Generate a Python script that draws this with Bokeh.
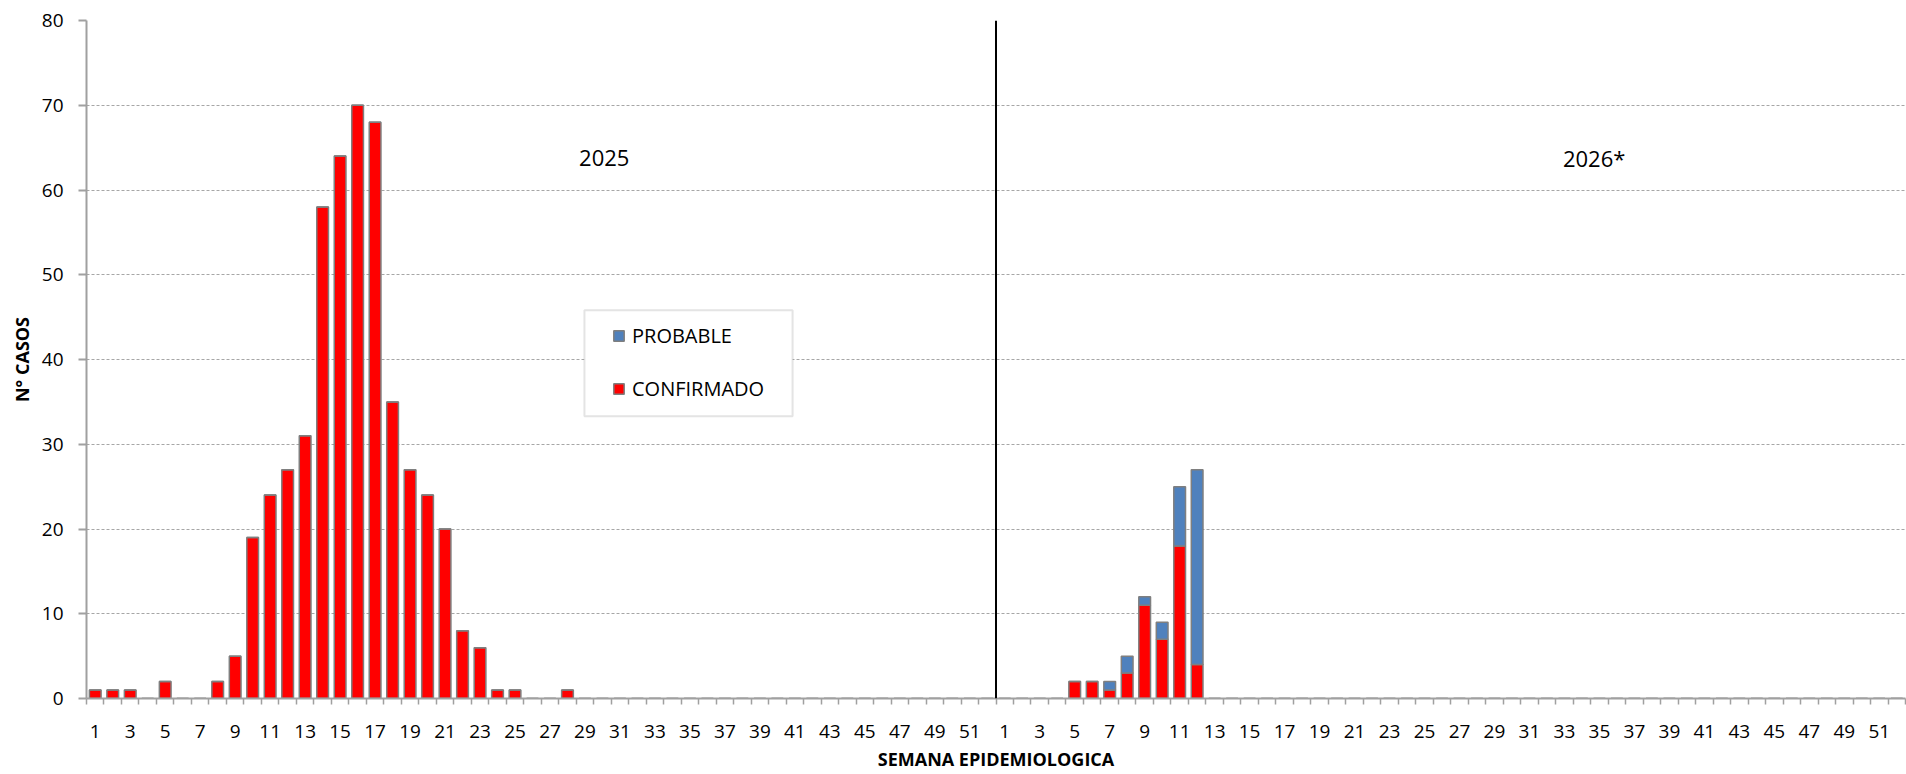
from bokeh.plotting import figure
from bokeh.models import (Range1d, FixedTicker, Legend, LegendItem, Label,
                          Span, ColumnDataSource, BoxAnnotation)
from bokeh.embed import file_html
from bokeh.resources import INLINE

# ---------------- data ----------------
weeks_2025 = [1, 2, 3, 4, 5, 6, 7, 8, 9, 10, 11, 12, 13, 14, 15, 16, 17, 18, 19, 20,
              21, 22, 23, 24, 25, 26, 27, 28, 29, 30, 31, 32, 33, 34, 35, 36, 37, 38, 39, 40,
              41, 42, 43, 44, 45, 46, 47, 48, 49, 50, 51, 52]
weeks_2026 = [1, 2, 3, 4, 5, 6, 7, 8, 9, 10, 11, 12, 13, 14, 15, 16, 17, 18, 19, 20,
              21, 22, 23, 24, 25, 26, 27, 28, 29, 30, 31, 32, 33, 34, 35, 36, 37, 38, 39, 40,
              41, 42, 43, 44, 45, 46, 47, 48, 49, 50, 51, 52]

confirmado_2025 = [1, 1, 1, 0, 2, 0, 0, 2, 5, 19, 24, 27, 31, 58, 64, 70, 68, 35, 27, 24,
                   20, 8, 6, 1, 1, 0, 0, 1, 0, 0, 0, 0, 0, 0, 0, 0, 0, 0, 0, 0,
                   0, 0, 0, 0, 0, 0, 0, 0, 0, 0, 0, 0]
probable_2025 = [0, 0, 0, 0, 0, 0, 0, 0, 0, 0, 0, 0, 0, 0, 0, 0, 0, 0, 0, 0,
                 0, 0, 0, 0, 0, 0, 0, 0, 0, 0, 0, 0, 0, 0, 0, 0, 0, 0, 0, 0,
                 0, 0, 0, 0, 0, 0, 0, 0, 0, 0, 0, 0]
confirmado_2026 = [0, 0, 0, 0, 2, 2, 1, 3, 11, 7, 18, 4, 0, 0, 0, 0, 0, 0, 0, 0,
                   0, 0, 0, 0, 0, 0, 0, 0, 0, 0, 0, 0, 0, 0, 0, 0, 0, 0, 0, 0,
                   0, 0, 0, 0, 0, 0, 0, 0, 0, 0, 0, 0]
probable_2026 = [0, 0, 0, 0, 0, 0, 1, 2, 1, 2, 7, 23, 0, 0, 0, 0, 0, 0, 0, 0,
                 0, 0, 0, 0, 0, 0, 0, 0, 0, 0, 0, 0, 0, 0, 0, 0, 0, 0, 0, 0,
                 0, 0, 0, 0, 0, 0, 0, 0, 0, 0, 0, 0]

year_labels = ["2025", "2026*"]
series_names = ["PROBABLE", "CONFIRMADO"]
x_title = "SEMANA EPIDEMIOLOGICA"
y_title = "N° CASOS"
colors = {"CONFIRMADO": "#FF0000", "PROBABLE": "#4F81BD"}

# ---------------- build ----------------
all_weeks = weeks_2025 + weeks_2026
n = len(all_weeks)
xs = list(range(1, n + 1))
src = ColumnDataSource(dict(
    x=xs,
    confirmado=confirmado_2025 + confirmado_2026,
    probable=probable_2025 + probable_2026,
))

FONT = "Open Sans"

p = figure(width=1906, height=774, output_backend="svg", toolbar_location=None,
           x_range=Range1d(0.5, n + 0.5), y_range=Range1d(0, 80),
           min_border_left=86, min_border_right=1, min_border_top=20,
           min_border_bottom=76)
p.outline_line_color = None
p.background_fill_color = "white"
p.border_fill_color = "white"

rs = p.vbar_stack(["confirmado", "probable"], x="x", width=0.67, source=src,
                  color=[colors["CONFIRMADO"], colors["PROBABLE"]],
                  line_color="#7F7F7F", line_width=1.5)

# x axis
major = [x for x in xs if all_weeks[x - 1] % 2 == 1]
p.xaxis.ticker = FixedTicker(ticks=major, minor_ticks=[x + 0.5 for x in range(0, n + 1)])
p.xaxis.major_label_overrides = {x: str(all_weeks[x - 1]) for x in major}
p.xaxis.major_tick_out = 0
p.xaxis.major_tick_in = 0
p.xaxis.minor_tick_out = 6
p.xaxis.minor_tick_in = 0
p.xaxis.minor_tick_line_color = "#A0A0A0"
p.xaxis.minor_tick_line_width = 1.5
p.xaxis.axis_line_color = "#A0A0A0"
p.xaxis.axis_line_width = 2
p.xaxis.major_label_text_font = FONT
p.xaxis.major_label_text_font_size = "19px"
p.xaxis.major_label_text_color = "black"
p.xaxis.major_label_standoff = 20
p.xaxis.axis_label = x_title
p.xaxis.axis_label_text_font = FONT
p.xaxis.axis_label_text_font_style = "bold"
p.xaxis.axis_label_text_font_size = "18px"
p.xaxis.axis_label_standoff = 6
p.xaxis.axis_label_text_color = "black"

# y axis
p.yaxis.ticker = FixedTicker(ticks=[0, 10, 20, 30, 40, 50, 60, 70, 80], minor_ticks=[])
p.yaxis.major_tick_out = 8
p.yaxis.major_tick_in = 0
p.yaxis.major_tick_line_color = "#A0A0A0"
p.yaxis.major_tick_line_width = 2
p.yaxis.axis_line_color = "#A0A0A0"
p.yaxis.axis_line_width = 2
p.yaxis.major_label_text_font = FONT
p.yaxis.major_label_text_font_size = "19px"
p.yaxis.major_label_text_color = "black"
p.yaxis.major_label_standoff = 15
p.yaxis.axis_label = y_title
p.yaxis.axis_label_text_font = FONT
p.yaxis.axis_label_text_font_style = "bold"
p.yaxis.axis_label_text_font_size = "18px"
p.yaxis.axis_label_standoff = 5
p.yaxis.axis_label_text_color = "black"

p.xgrid.grid_line_color = None
p.ygrid.grid_line_color = "#A6A6A6"
p.ygrid.grid_line_dash = "3 2"
p.ygrid.grid_line_width = 1

# divider between years
p.add_layout(Span(location=len(weeks_2025) + 0.5, dimension="height",
                  line_color="black", line_width=2))

# year labels
p.add_layout(Label(x=30.1, y=63.8, text=year_labels[0], text_align="center",
                   text_baseline="middle", text_font=FONT, text_font_size="22px",
                   text_color="black"))
p.add_layout(Label(x=86.7, y=63.8, text=year_labels[1], text_align="center",
                   text_baseline="middle", text_font=FONT, text_font_size="22px",
                   text_color="black"))

# legend frame
p.add_layout(BoxAnnotation(left=28.97, right=40.87, bottom=33.3, top=45.8,
                           fill_color="white", fill_alpha=1,
                           line_color="#A6A6A6", line_width=2, level="annotation"))

# legend
legend = Legend(items=[LegendItem(label=series_names[0], renderers=[rs[1]]),
                       LegendItem(label=series_names[1], renderers=[rs[0]])],
                location=(526, 296), orientation="vertical",
                glyph_width=13, glyph_height=13, label_height=16,
                label_standoff=7, spacing=26, padding=0, margin=0,
                label_text_font=FONT, label_text_font_size="20px",
                label_text_color="black",
                border_line_color=None, background_fill_alpha=0)
p.add_layout(legend, "center")

open("out.html", "w").write(file_html(p, INLINE))
